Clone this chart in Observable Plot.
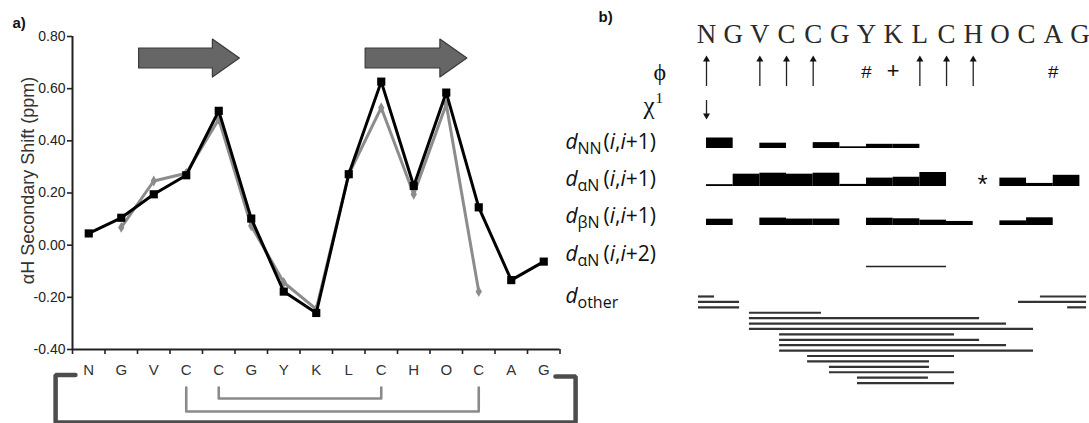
<!DOCTYPE html>
<html><head><meta charset="utf-8">
<script src="https://cdn.jsdelivr.net/npm/d3@7"></script>
<script src="https://cdn.jsdelivr.net/npm/@observablehq/plot@0.6"></script>
<style>
html,body{margin:0;padding:0;background:#fff;}
#fig{position:relative;width:1089px;height:423px;overflow:hidden;background:#fff;}
#pa,#pb{position:absolute;top:0;}
#pa{left:0;width:590px;}
#pb{left:545px;width:544px;}
</style></head><body><div id="fig"><div id="pa"></div><div id="pb"></div></div>
<script>
// ---------------- data ----------------
const residues = ["N","G","V","C","C","G","Y","K","L","C","H","O","C","A","G"];
const shiftBlack = [0.045, 0.105, 0.195, 0.268, 0.515, 0.102, -0.178, -0.26, 0.272, 0.627, 0.227, 0.585, 0.145, -0.134, -0.063];
const shiftGray  = [null, 0.068, 0.246, 0.276, 0.483, 0.074, -0.143, -0.245, 0.272, 0.527, 0.195, 0.54, -0.178, null, null];
const yTicks = [-0.4, -0.2, 0, 0.2, 0.4, 0.6, 0.8];
const yTitle = "αH Secondary Shift (ppm)";
const strands = [{from: 2.05, to: 5.15}, {from: 9.02, to: 12.15}];   // beta strands (residue boundaries)
const disulfides = [{a: 3, b: 12}, {a: 4, b: 9}];                   // Cys pairs (residue index)
const cyclization = {a: 0, b: 14};                                   // head-to-tail link

// panel b data
const phiUp = [0, 2, 3, 4, 8, 9, 10];
const phiHash = [6, 13];
const phiPlus = [7];
const chiDown = [0];
const dNN = [{i:0,h:0.75},{i:2,h:0.38},{i:4,h:0.42},{i:5,h:0.12},{i:6,h:0.3},{i:7,h:0.3}];
const daN = [{i:0,h:0.13},{i:1,h:0.88},{i:2,h:0.95},{i:3,h:0.88},{i:4,h:0.95},{i:5,h:0.15},{i:6,h:0.6},{i:7,h:0.66},{i:8,h:1.0},{i:11,h:0.6},{i:12,h:0.22},{i:13,h:0.8}];
const daNstar = [10];
const dbN = [{i:0,h:0.45},{i:2,h:0.53},{i:3,h:0.46},{i:4,h:0.46},{i:6,h:0.52},{i:7,h:0.48},{i:8,h:0.38},{i:9,h:0.29},{i:11,h:0.33},{i:12,h:0.55}];
const daN2 = [{from: 6, to: 9}];
const dOther = [
  {slot:0,from:-0.3,to:0.3},{slot:1,from:-0.3,to:1.24},{slot:2,from:-0.3,to:1.24},
  {slot:3,from:1.61,to:4.31},{slot:4,from:1.61,to:10.24},{slot:5,from:1.61,to:11.25},{slot:6,from:1.61,to:12.26},
  {slot:7,from:2.74,to:9.3},{slot:8,from:2.74,to:10.24},{slot:9,from:2.74,to:11.25},{slot:10,from:2.74,to:12.26},
  {slot:11,from:3.79,to:9.3},{slot:12,from:3.79,to:8.36},{slot:13,from:4.61,to:8.36},{slot:14,from:4.61,to:9.3},
  {slot:15,from:5.66,to:8.32},{slot:16,from:5.66,to:9.3},
  {slot:0,from:12.52,to:14.25},{slot:1,from:11.7,to:14.25},{slot:2,from:13.54,to:14.25}
];
const rowLabels = [
  {row:"dNN", sub:"NN", tail:"(i,i+1)"},
  {row:"daN", sub:"αN", tail:"(i,i+1)"},
  {row:"dbN", sub:"βN", tail:"(i,i+1)"},
  {row:"daN2", sub:"αN", tail:"(i,i+2)"},
  {row:"dother", sub:"other", tail:""}
];

// ---------------- panel a ----------------
const WA = 590, H = 423;
const mA = {left: 72, right: 30.5, top: 36, bottom: 74};
const yDom = [-0.4, 0.8];
const pxPerY = (H - mA.top - mA.bottom) / (yDom[1] - yDom[0]);
const pxPerX = (WA - mA.left - mA.right) / residues.length;
const below = px => yDom[0] - px / pxPerY;
const fromTop = px => yDom[1] - px / pxPerY;

const pts = arr => arr.map((v, i) => ({x: i + 0.5, v})).filter(d => d.v != null);

const arrowPts = strands.flatMap((s, k) => {
  const c = fromTop(22), b = 10 / pxPerY, h = 19 / pxPerY, hx = s.to - 27 / pxPerX;
  return [
    {k, x: s.from, lo: c - b, hi: c + b},
    {k, x: hx, lo: c - b, hi: c + b},
    {k, x: hx, lo: c - h, hi: c + h},
    {k, x: s.to, lo: c, hi: c}
  ];
});

const ssSorted = disulfides.slice().sort((p, q) => (p.b - p.a) - (q.b - q.a));
const ssPts = ssSorted.flatMap((d, r) => {
  const top = below(38), bot = below(49 + 13 * r);
  return [
    {k: r, x: d.a + 0.5, y: top}, {k: r, x: d.a + 0.5, y: bot},
    {k: r, x: d.b + 0.5, y: bot}, {k: r, x: d.b + 0.5, y: top}
  ];
});
const cyc = cyclization;
const bracketPts = [
  {x: cyc.a + 0.5 - 0.41, y: below(25.5)},
  {x: cyc.a + 0.5 - 1.02, y: below(25.5)},
  {x: cyc.a + 0.5 - 1.02, y: below(73)},
  {x: cyc.b + 0.5 + 0.98, y: below(73)},
  {x: cyc.b + 0.5 + 0.98, y: below(27)},
  {x: cyc.b + 0.5 + 0.36, y: below(27)}
];

const plotA = Plot.plot({
  width: WA, height: H,
  marginLeft: mA.left, marginRight: mA.right, marginTop: mA.top, marginBottom: mA.bottom,
  x: {domain: [0, residues.length], axis: null},
  y: {domain: yDom, axis: null},
  style: {background: "transparent", overflow: "visible", fontFamily: "'Liberation Sans', Arial, sans-serif", fontSize: "14px", color: "#222"},
  marks: [
    Plot.areaY(arrowPts, {x: "x", y1: "lo", y2: "hi", z: "k", fill: "#666", stroke: "#3a3a3a", strokeWidth: 1.2}),
    Plot.axisY({ticks: yTicks, tickFormat: d => d.toFixed(2), tickSize: 5, tickPadding: 2, label: null, fontSize: 14, strokeWidth: 1.6}),
    Plot.axisX({ticks: d3.range(residues.length + 1), tickFormat: () => "", tickSize: 5, label: null, strokeWidth: 1.6}),
    Plot.ruleX([0], {stroke: "#222", strokeWidth: 2}),
    Plot.ruleY([yDom[0]], {stroke: "#222", strokeWidth: 2}),
    Plot.text(residues, {x: (d, i) => i + 0.5, frameAnchor: "bottom", dy: 25, fontSize: 15, fill: "#333"}),
    Plot.text([yTitle], {x: () => -44 / pxPerX, y: () => fromTop(144), rotate: -90, textAnchor: "middle", lineAnchor: "middle", fontSize: 18, fill: "#333"}),
    Plot.text(["a)"], {frameAnchor: "top-left", dx: -60, dy: -19, textAnchor: "start", fontWeight: "bold", fontSize: 15, fill: "#111"}),
    Plot.line(ssPts, {x: "x", y: "y", z: "k", stroke: "#8a8a8a", strokeWidth: 2.6}),
    Plot.line(bracketPts, {x: "x", y: "y", stroke: "#4d4d4d", strokeWidth: 4.5, strokeLinejoin: "miter"}),
    Plot.line(pts(shiftGray), {x: "x", y: "v", stroke: "#8c8c8c", strokeWidth: 3}),
    Plot.dot(pts(shiftGray), {x: "x", y: "v", symbol: "diamond", r: 3.3, fill: "#8c8c8c"}),
    Plot.line(pts(shiftBlack), {x: "x", y: "v", stroke: "#000", strokeWidth: 3}),
    Plot.dot(pts(shiftBlack), {x: "x", y: "v", symbol: "square", r: 4.6, fill: "#000"})
  ]
});
document.getElementById("pa").appendChild(plotA);

// ---------------- panel b ----------------
const WB = 544, LEFT_B = 545;
const rowBase = {dNN: 148, daN: 186, dbN: 225, daN2: 266};
const labelBase = {dNN: 148.5, daN: 185, dbN: 222, daN2: 260, dother: 302};
const barUnit = 14;
const otherTop = 296, otherStep = 5.41;
const barsOf = (arr, row) => arr.map(d => ({...d, row}));
const bars = [...barsOf(dNN, "dNN"), ...barsOf(daN, "daN"), ...barsOf(dbN, "dbN")];
const sans = "'Open Sans', 'Liberation Sans', sans-serif";
const serif = "'Liberation Serif', 'DejaVu Serif', serif";

const plotB = Plot.plot({
  width: WB, height: H,
  marginLeft: 706 - LEFT_B, marginRight: WB - (1079.4 - LEFT_B), marginTop: 0, marginBottom: 0,
  x: {domain: [0, residues.length - 1], axis: null},
  y: {domain: [0, H], range: [0, H], axis: null},
  style: {background: "transparent", overflow: "visible", fontFamily: sans, color: "#111"},
  marks: [
    Plot.text(["b)"], {frameAnchor: "top-left", dx: -108, dy: 17, textAnchor: "start", lineAnchor: "middle", fontWeight: "bold", fontFamily: "'Liberation Sans', Arial, sans-serif", fontSize: 15}),
    Plot.text(residues, {x: (d, i) => i, frameAnchor: "top", dy: 42, lineAnchor: "bottom", fontFamily: serif, fontSize: 27, fill: "#2a2a2a"}),
    Plot.text(["ϕ"], {frameAnchor: "top-left", dx: -53, dy: 79, lineAnchor: "bottom", fontFamily: serif, fontSize: 24}),
    Plot.text(["χ"], {frameAnchor: "top-left", dx: -63, dy: 113, lineAnchor: "bottom", fontFamily: serif, fontSize: 25}),
    Plot.text(["1"], {frameAnchor: "top-left", dx: -51, dy: 102, lineAnchor: "bottom", fontFamily: serif, fontSize: 15}),
    // phi arrows
    Plot.ruleX(phiUp, {x: d => d, y1: () => 86, y2: () => 60, stroke: "#222", strokeWidth: 1.3}),
    Plot.dot(phiUp, {x: d => d, y: () => 59, symbol: "triangle", r: 2.6, fill: "#111"}),
    Plot.text(phiHash, {x: d => d, y: () => 71, text: () => "#", lineAnchor: "middle", fontFamily: "'Liberation Mono', monospace", fontSize: 19}),
    Plot.text(phiPlus, {x: d => d, y: () => 70, text: () => "+", lineAnchor: "middle", fontFamily: "'Liberation Mono', monospace", fontSize: 22}),
    // chi arrow
    Plot.ruleX(chiDown, {x: d => d, y1: () => 100, y2: () => 114, stroke: "#222", strokeWidth: 1.3}),
    Plot.dot(chiDown, {x: d => d, y: () => 115, symbol: "triangle", rotate: 180, r: 2.6, fill: "#111"}),
    // NOE bars
    Plot.rect(bars, {x1: d => d.i, x2: d => d.i + 1, y1: d => rowBase[d.row], y2: d => rowBase[d.row] - Math.max(1.6, d.h * barUnit), fill: "#000"}),
    Plot.text(daNstar, {x: d => d + 0.5, y: () => 192, dx: -4, text: () => "*", lineAnchor: "bottom", fontFamily: "'Liberation Sans', Arial, sans-serif", fontSize: 26}),
    Plot.ruleY(daN2, {y: () => rowBase.daN2, x1: "from", x2: "to", stroke: "#222", strokeWidth: 1.3}),
    Plot.ruleY(dOther, {y: d => otherTop + d.slot * otherStep, x1: "from", x2: "to", stroke: "#333", strokeWidth: 2.2}),
    // row labels
    Plot.text(rowLabels, {y: d => labelBase[d.row], frameAnchor: "left", dx: -141, text: () => "d", textAnchor: "start", lineAnchor: "bottom", fontStyle: "italic", fontSize: 21}),
    Plot.text(rowLabels, {y: d => labelBase[d.row], frameAnchor: "left", dx: -129, dy: 5, text: "sub", textAnchor: "start", lineAnchor: "bottom", fontSize: 16}),
    Plot.text(rowLabels, {y: d => labelBase[d.row], frameAnchor: "left", dx: -103, text: "tail", textAnchor: "start", lineAnchor: "bottom", fontSize: 21})
  ]
});
document.getElementById("pb").appendChild(plotB);

// italic i in (i,i+1)
d3.select(plotB).selectAll("text").each(function() {
  const s = this.textContent;
  if (!/^\(i,i\+\d\)$/.test(s)) return;
  const t = d3.select(this);
  t.text(null);
  for (const ch of s) {
    const sp = t.append("tspan").text(ch);
    if (ch === "i") sp.attr("font-style", "italic");
  }
});
</script></body></html>
